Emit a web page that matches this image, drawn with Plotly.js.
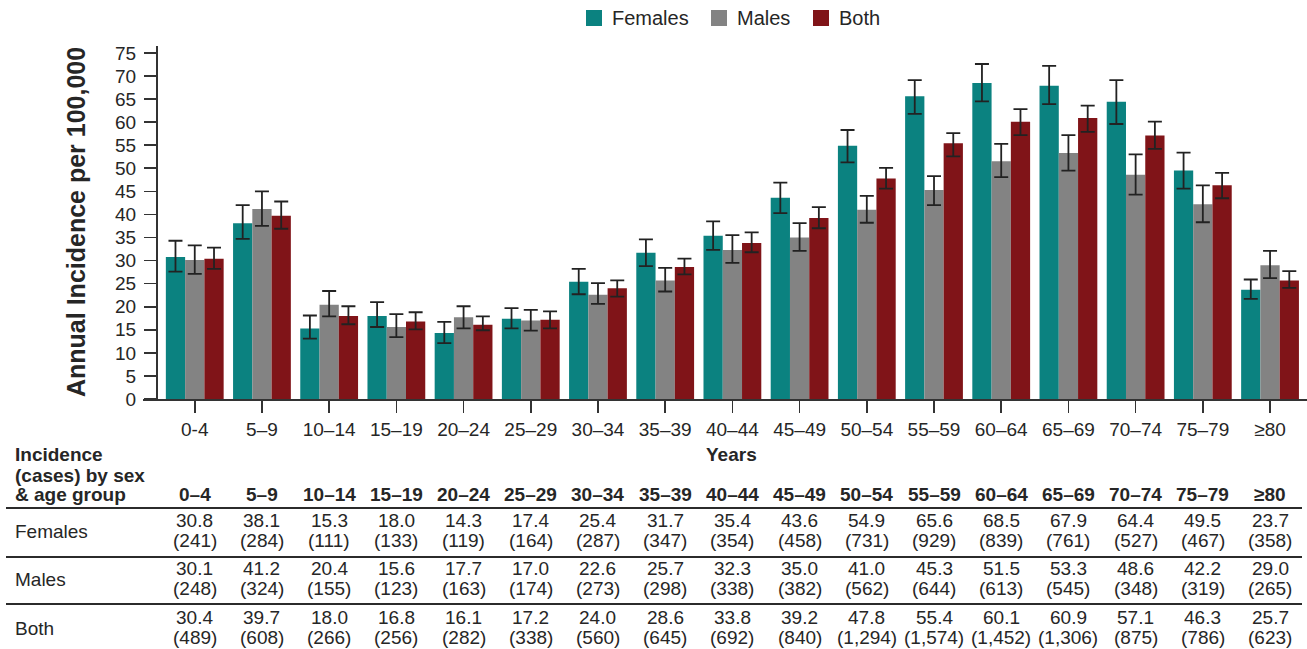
<!DOCTYPE html>
<html>
<head>
<meta charset="utf-8">
<script src="https://cdn.plot.ly/plotly-3.0.1.min.js"></script>
<style>
  html, body { margin: 0; padding: 0; background: #fff; }
  #chart { width: 1307px; height: 649px; }
</style>
</head>
<body>
<div id="chart"></div>
<script>
// Age groups (x categories and table header)
const ageGroups = ['0–4','5–9','10–14','15–19','20–24','25–29','30–34','35–39','40–44',
                   '45–49','50–54','55–59','60–64','65–69','70–74','75–79','≥80'];
// Labels printed under the x axis
const tickLabels = ['0-4','5–9','10–14','15–19','20–24','25–29','30–34','35–39','40–44',
                    '45–49','50–54','55–59','60–64','65–69','70–74','75–79','≥80'];

// Annual incidence per 100,000
const femalesRate = [30.8,38.1,15.3,18.0,14.3,17.4,25.4,31.7,35.4,43.6,54.9,65.6,68.5,67.9,64.4,49.5,23.7];
const malesRate   = [30.1,41.2,20.4,15.6,17.7,17.0,22.6,25.7,32.3,35.0,41.0,45.3,51.5,53.3,48.6,42.2,29.0];
const bothRate    = [30.4,39.7,18.0,16.8,16.1,17.2,24.0,28.6,33.8,39.2,47.8,55.4,60.1,60.9,57.1,46.3,25.7];

// Confidence interval bounds
const femalesHi = [34.3,42.0,18.1,21.0,16.7,19.7,28.2,34.6,38.5,46.9,58.3,69.1,72.6,72.2,69.1,53.4,25.9];
const femalesLo = [27.6,34.7,13.1,15.6,12.1,15.3,22.7,28.8,32.3,40.3,51.3,61.8,64.5,63.9,59.6,45.6,21.7];
const malesHi   = [33.3,45.0,23.4,18.4,20.1,19.3,25.1,28.4,35.5,38.1,44.0,48.3,55.3,57.2,53.0,46.3,32.1];
const malesLo   = [27.1,37.5,17.9,13.4,15.3,14.8,20.6,23.3,29.5,32.1,38.2,42.0,48.1,49.5,44.3,38.3,26.2];
const bothHi    = [32.8,42.8,20.1,18.8,17.9,19.0,25.7,30.4,36.1,41.6,50.1,57.6,62.8,63.6,60.1,49.0,27.7];
const bothLo    = [28.2,36.9,16.2,15.1,14.9,15.3,22.2,27.0,31.8,37.0,45.6,52.6,57.2,57.9,54.2,43.5,24.1];

// Case counts
const femalesCases = [241,284,111,133,119,164,287,347,354,458,731,929,839,761,527,467,358];
const malesCases   = [248,324,155,123,163,174,273,298,338,382,562,644,613,545,348,319,265];
const bothCases    = [489,608,266,256,282,338,560,645,692,840,1294,1574,1452,1306,875,786,623];

const seriesNames  = ['Females','Males','Both'];
const seriesColors = ['#0b8280','#838383','#801418'];

const FONT = 'Liberation Sans, Arial, sans-serif';
const TXT = '#262626';

// Page geometry (pixels)
const W = 1307, H = 649;
const M = { l: 143, r: 0, t: 46, b: 250 };
const plotW = W - M.l - M.r, plotH = H - M.t - M.b;
const px = x => (x - M.l) / plotW;          // pixel x -> paper x
const py = y => (H - M.b - y) / plotH;      // pixel y -> paper y

function barTrace(name, color, vals, lo, hi) {
  return {
    type: 'bar', name: name, x: ageGroups, y: vals,
    marker: { color: color, line: { width: 0 } },
    showlegend: false, hoverinfo: 'x+y+name',
    error_y: {
      type: 'data', symmetric: false,
      array: hi.map((h, i) => +(h - vals[i]).toFixed(2)),
      arrayminus: lo.map((l, i) => +(vals[i] - l).toFixed(2)),
      color: '#222', thickness: 1.8, width: 7
    }
  };
}

const traces = [
  barTrace(seriesNames[0], seriesColors[0], femalesRate, femalesLo, femalesHi),
  barTrace(seriesNames[1], seriesColors[1], malesRate, malesLo, malesHi),
  barTrace(seriesNames[2], seriesColors[2], bothRate, bothLo, bothHi)
];

const shapes = [];
const annotations = [];

// Legend row across the top
const legendBoxX = [586, 711, 813];
seriesNames.forEach((n, i) => {
  shapes.push({ type: 'rect', xref: 'paper', yref: 'paper',
    x0: px(legendBoxX[i]), x1: px(legendBoxX[i] + 16), y0: py(26), y1: py(10),
    fillcolor: seriesColors[i], line: { width: 0 } });
  annotations.push({ xref: 'paper', yref: 'paper', x: px(legendBoxX[i] + 24), y: py(18),
    xanchor: 'left', yanchor: 'middle', showarrow: false, text: n,
    font: { family: FONT, size: 20, color: TXT } });
});

// Axis titles
annotations.push({ xref: 'paper', yref: 'paper', x: px(76), y: py(222), textangle: -90,
  xanchor: 'center', yanchor: 'middle', showarrow: false,
  text: '<b>Annual Incidence per 100,000</b>', font: { family: FONT, size: 25, color: TXT } });
annotations.push({ xref: 'paper', yref: 'paper', x: px(731), y: py(455),
  xanchor: 'center', yanchor: 'middle', showarrow: false,
  text: '<b>Years</b>', font: { family: FONT, size: 19, color: TXT } });

// Table under the chart
const headLines = ['Incidence', '(cases) by sex', '& age group'];
const headY = [454, 475, 495];
headLines.forEach((t, i) => annotations.push({ xref: 'paper', yref: 'paper', x: px(13), y: py(headY[i]),
  xanchor: 'left', yanchor: 'middle', showarrow: false, text: '<b>' + t + '</b>',
  font: { family: FONT, size: 19, color: TXT } }));
ageGroups.forEach(g => annotations.push({ xref: 'x', yref: 'paper', x: g, y: py(495),
  xanchor: 'center', yanchor: 'middle', showarrow: false, text: '<b>' + g + '</b>',
  font: { family: FONT, size: 19, color: TXT } }));

const rows = [
  { label: seriesNames[0], rate: femalesRate, cases: femalesCases, y: 520 },
  { label: seriesNames[1], rate: malesRate,   cases: malesCases,   y: 568 },
  { label: seriesNames[2], rate: bothRate,    cases: bothCases,    y: 617 }
];
rows.forEach(r => {
  annotations.push({ xref: 'paper', yref: 'paper', x: px(13), y: py(r.y + 11),
    xanchor: 'left', yanchor: 'middle', showarrow: false, text: r.label,
    font: { family: FONT, size: 19, color: TXT } });
  ageGroups.forEach((g, i) => {
    annotations.push({ xref: 'x', yref: 'paper', x: g, y: py(r.y),
      xanchor: 'center', yanchor: 'middle', showarrow: false, text: r.rate[i].toFixed(1),
      font: { family: FONT, size: 19, color: TXT } });
    annotations.push({ xref: 'x', yref: 'paper', x: g, y: py(r.y + 20),
      xanchor: 'center', yanchor: 'middle', showarrow: false,
      text: '(' + r.cases[i].toLocaleString('en-US') + ')',
      font: { family: FONT, size: 19, color: TXT } });
  });
});

// Rules between table rows
[[508, 2.2], [557, 1.8], [604, 1.8]].forEach(([y, w]) => shapes.push({
  type: 'line', xref: 'paper', yref: 'paper', x0: px(6), x1: px(1302), y0: py(y), y1: py(y),
  line: { color: '#2b2b2b', width: w } }));

const layout = {
  width: W, height: H, autosize: false,
  margin: M,
  paper_bgcolor: '#fff', plot_bgcolor: '#fff',
  font: { family: FONT, color: TXT },
  barmode: 'group', bargap: 0.14, bargroupgap: 0,
  showlegend: false,
  xaxis: {
    type: 'category', categoryorder: 'array', categoryarray: ageGroups,
    tickmode: 'array', tickvals: ageGroups, ticktext: tickLabels,
    range: [-0.77, 16.55], fixedrange: true,
    showline: true, linecolor: '#333', linewidth: 1.8,
    ticks: 'outside', ticklen: 12, tickwidth: 1.6, tickcolor: '#333',
    tickfont: { family: FONT, size: 19, color: TXT },
    showgrid: false, zeroline: false
  },
  yaxis: {
    anchor: 'free', position: px(156), range: [0, 76.5], fixedrange: true,
    dtick: 5, tick0: 0,
    showline: true, linecolor: '#333', linewidth: 1.8,
    ticks: 'outside', ticklen: 12, tickwidth: 1.6, tickcolor: '#333',
    tickfont: { family: FONT, size: 19, color: TXT },
    ticklabelstandoff: 4,
    showgrid: false, zeroline: false
  },
  shapes: shapes,
  annotations: annotations
};

Plotly.newPlot('chart', traces, layout, { displayModeBar: false, staticPlot: true });
</script>
</body>
</html>
